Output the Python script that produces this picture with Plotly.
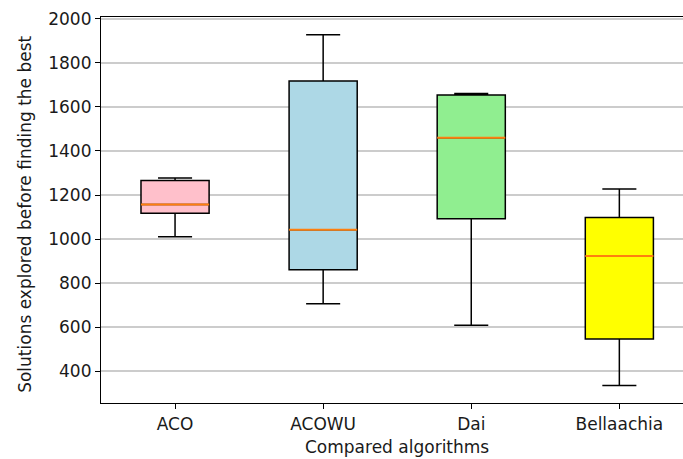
import plotly.graph_objects as go

categories = ["ACO", "ACOWU", "Dai", "Bellaachia"]
lower_whisker = [1011, 707, 609, 336]
q1_values = [1117, 861, 1093, 547]
medians = [1157, 1043, 1460, 923]
q3_values = [1266, 1717, 1654, 1098]
upper_whisker = [1277, 1927, 1661, 1227]
fill_colors = ["pink", "lightblue", "lightgreen", "yellow"]
y_ticks = [400, 600, 800, 1000, 1200, 1400, 1600, 1800, 2000]

positions = list(range(1, len(categories) + 1))
box_width = 0.46
font = dict(family="DejaVu Sans", size=17, color="#1a1a1a")

fig = go.Figure()
for i, name in enumerate(categories):
    fig.add_trace(go.Box(
        x=[positions[i]], q1=[q1_values[i]], median=[medians[i]], q3=[q3_values[i]],
        lowerfence=[lower_whisker[i]], upperfence=[upper_whisker[i]],
        fillcolor=fill_colors[i], line=dict(color="black", width=1.5),
        width=box_width, whiskerwidth=0.5, boxpoints=False,
        showlegend=False, hoverinfo="skip", name=name,
    ))
    fig.add_trace(go.Scatter(
        x=[positions[i] - box_width / 2, positions[i] + box_width / 2],
        y=[medians[i], medians[i]], mode="lines",
        line=dict(color="#ff7f0e", width=2),
        showlegend=False, hoverinfo="skip",
    ))

fig.update_layout(
    width=683, height=459,
    margin=dict(l=101, r=0, t=17, b=56, autoexpand=False),
    plot_bgcolor="white", paper_bgcolor="white",
    font=font,
    xaxis=dict(
        range=[0.5, 0.5 + 582 / 148.1], tickvals=positions, ticktext=categories,
        showgrid=False, zeroline=False, showline=True, linecolor="black", linewidth=1.2,
        mirror=True, ticks="outside", ticklen=5, tickcolor="black", tickwidth=1,
        tickfont=font, automargin=False,
    ),
    yaxis=dict(
        range=[256.6, 2007.7], tickvals=y_ticks, ticktext=[str(v) for v in y_ticks],
        showgrid=True, gridcolor="#cccccc", gridwidth=1.5, zeroline=False,
        showline=True, linecolor="black", linewidth=1.2, mirror=False,
        ticks="outside", ticklen=5, tickcolor="black", tickwidth=1,
        tickfont=font, automargin=False,
    ),
    annotations=[
        dict(text="Compared algorithms", x=2.5, xref="x", y=-0.113, yref="paper",
             xanchor="center", yanchor="middle", showarrow=False, font=font),
        dict(text="Solutions explored before finding the best", x=-0.1306, xref="paper",
             y=0.49, yref="paper", xanchor="center", yanchor="middle", textangle=-90,
             showarrow=False, font=font),
    ],
)

fig.write_html("out.html", config={"displayModeBar": False},
               post_script="document.body.style.margin='0px';")
